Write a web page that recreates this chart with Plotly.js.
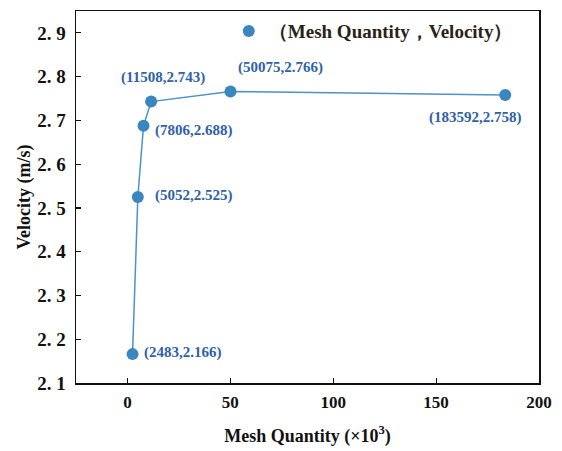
<!DOCTYPE html>
<html>
<head>
<meta charset="utf-8">
<script src="https://cdn.plot.ly/plotly-3.0.1.min.js"></script>
<style>
  html, body { margin: 0; padding: 0; background: #fff; }
  #chart { width: 562px; height: 451px; }
</style>
</head>
<body>
<div id="chart"></div>
<script>
// Grid-independence study: mesh size vs. computed velocity
const meshCount = [2483, 5052, 7806, 11508, 50075, 183592];
const velocity = [2.166, 2.525, 2.688, 2.743, 2.766, 2.758];

const xTickVals = [0, 50, 100, 150, 200];
const xTickText = ['0', '50', '100', '150', '200'];
const yTickVals = [2.1, 2.2, 2.3, 2.4, 2.5, 2.6, 2.7, 2.8, 2.9];
const yTickText = ['2. 1', '2. 2', '2. 3', '2. 4', '2. 5', '2. 6', '2. 7', '2. 8', '2. 9'];

// label placement offsets (pixels) for each point's value tag
const labelShiftX = [50, 56, 50, 12, 50, -30];
const labelShiftY = [2, 2, -5, 24, 24, -22];

const meshK = meshCount.map(v => v / 1000);
const serif = 'Liberation Serif, DejaVu Serif, serif';
const pointBlue = '#3a86bf';
const lineBlue = '#4b93c8';
const labelBlue = '#2f62a6';

// connecting line (kept out of the legend)
const lineTrace = {
  x: meshK,
  y: velocity,
  type: 'scatter',
  mode: 'lines',
  showlegend: false,
  hoverinfo: 'skip',
  line: { color: lineBlue, width: 1.5 }
};

// data points
const pointTrace = {
  x: meshK,
  y: velocity,
  type: 'scatter',
  mode: 'markers',
  name: '<b>（Mesh Quantity，Velocity）</b>',
  marker: { color: pointBlue, size: 12 }
};

const annotations = meshK.map((x, i) => ({
  x: x,
  y: velocity[i],
  xref: 'x',
  yref: 'y',
  text: '<b>(' + meshCount[i] + ',' + velocity[i].toFixed(3) + ')</b>',
  showarrow: false,
  xshift: labelShiftX[i],
  yshift: labelShiftY[i],
  font: { family: serif, size: 15, color: labelBlue }
}));

const layout = {
  width: 562,
  height: 451,
  margin: { l: 76, r: 23, t: 11, b: 68 },
  paper_bgcolor: '#fff',
  plot_bgcolor: '#fff',
  showlegend: true,
  legend: {
    x: 0.33, y: 0.997, xanchor: 'left', yanchor: 'top',
    bgcolor: 'rgba(0,0,0,0)',
    font: { family: serif, size: 19, color: '#2a2216' }
  },
  xaxis: {
    range: [-25, 200],
    tickvals: xTickVals,
    ticktext: xTickText,
    ticks: 'inside',
    ticklen: 5,
    tickwidth: 1.2,
    tickcolor: '#111',
    ticklabelstandoff: 3,
    showline: true,
    linecolor: '#111',
    linewidth: 1.5,
    mirror: true,
    showgrid: false,
    zeroline: false,
    tickfont: { family: serif, size: 17, color: '#111', weight: 'bold' },
    title: {
      text: '<b>Mesh Quantity (×10<sup>3</sup>)</b>',
      font: { family: serif, size: 18, color: '#111' },
      standoff: 18
    }
  },
  yaxis: {
    range: [2.1, 2.95],
    tickvals: yTickVals,
    ticktext: yTickText,
    ticks: 'inside',
    ticklen: 5,
    tickwidth: 1.2,
    tickcolor: '#111',
    ticklabelstandoff: 5,
    showline: true,
    linecolor: '#111',
    linewidth: 1.5,
    mirror: true,
    showgrid: false,
    zeroline: false,
    tickfont: { family: serif, size: 19, color: '#111', weight: 'bold' },
    title: {
      text: '<b>Velocity (m/s)</b>',
      font: { family: serif, size: 18, color: '#111' },
      standoff: 2
    }
  },
  annotations: annotations
};

Plotly.newPlot('chart', [lineTrace, pointTrace], layout, { staticPlot: true, displayModeBar: false });
</script>
</body>
</html>
